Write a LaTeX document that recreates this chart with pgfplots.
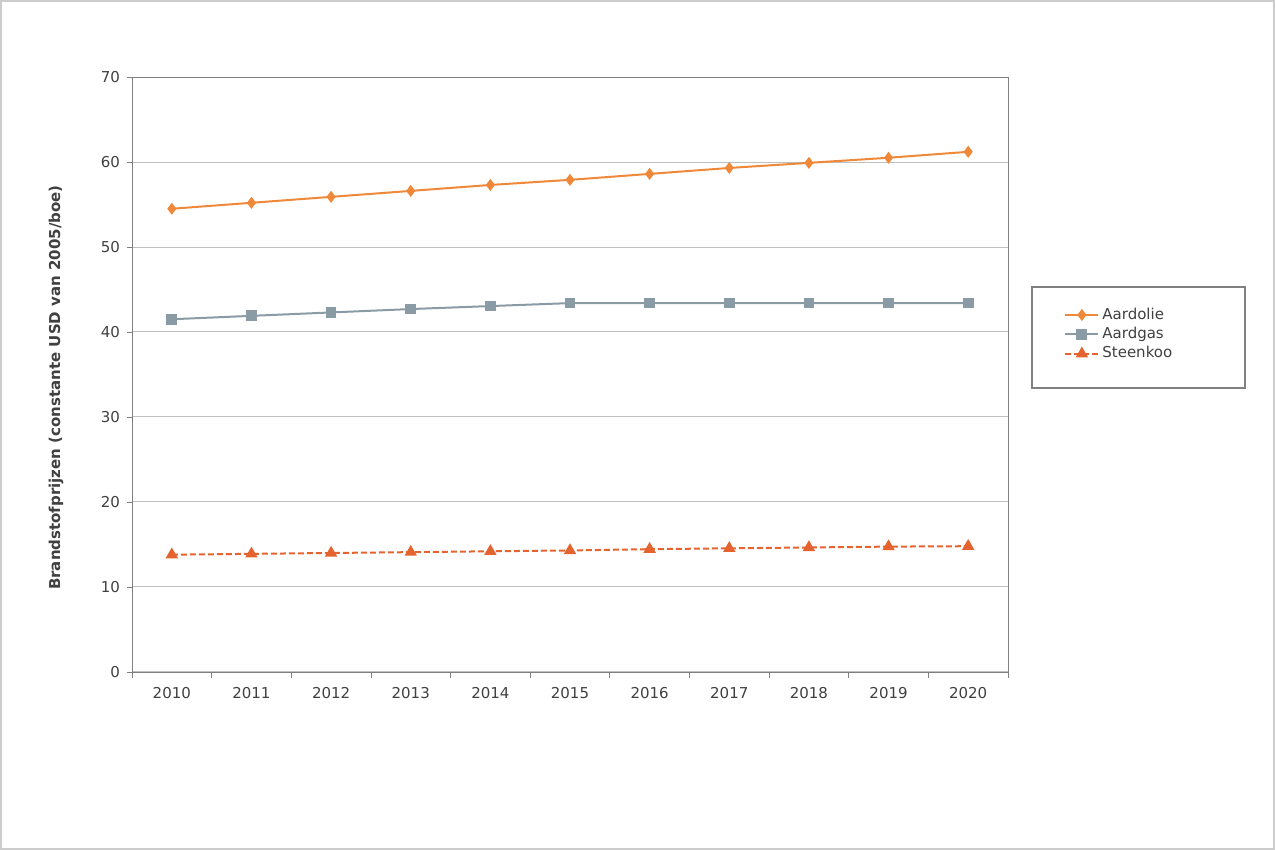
\documentclass[border=0pt]{standalone}
\usepackage{fontspec}
\setmainfont{DejaVu Sans}
\usepackage{pgfplots}
\pgfplotsset{compat=1.18}
\definecolor{oil}{HTML}{F0883A}
\definecolor{gas}{HTML}{8A9BA5}
\definecolor{coal}{HTML}{E5632E}
\begin{document}
\begin{tikzpicture}[font=\fontsize{7.5}{9}\selectfont]
\useasboundingbox (0,0) rectangle (637.5pt,425pt);
\draw[black!20, line width=0.75pt] (0.5pt,0.5pt) rectangle (637pt,424.5pt);
\begin{axis}[
  at={(66pt,89pt)}, anchor=south west,
  scale only axis, width=438pt, height=297.5pt,
  xmin=-0.5, xmax=10.5, ymin=0, ymax=70,
  xtick={0,...,10},
  xticklabels={2010,2011,2012,2013,2014,2015,2016,2017,2018,2019,2020},
  major x tick style={draw=none},
  minor xtick={-0.5,0.5,...,10.5},
  ytick={0,10,...,70},
  tick align=outside, xtick pos=bottom, ytick pos=left,
  major tick length=2.5pt, minor tick length=3pt,
  ymajorgrids, grid style={black!25, line width=0.5pt},
  axis line style={black!50},
  every tick/.style={black!50},
  tick label style={text=black!75, font=\fontsize{7.5}{9}\selectfont},
  xticklabel style={yshift=-1.5pt},
  /pgf/number format/assume math mode=true,
  ylabel={Brandstofprijzen (constante USD van 2005/boe)},
  ylabel style={font=\fontsize{7.5}{9}\selectfont\bfseries, text=black!75, at={(axis description cs:-0.0868,0.478)}, anchor=center},
  legend style={at={(axis description cs:1.0639,0.617)}, anchor=north west, draw=none, fill=none, inner sep=0pt, row sep=0pt,
    nodes={inner xsep=1.5pt, inner ysep=1.25pt, text=black!75, font=\fontsize{7.5}{9}\selectfont}},
  legend cell align=left,
  legend image code/.code={\draw[mark repeat=2,mark phase=2] plot coordinates {(0pt,0pt)(8.25pt,0pt)(16.5pt,0pt)};},
]
\addplot[color=oil, line width=1pt, mark=diamond*, mark size=2.2pt, mark options={solid}] coordinates {
(0,54.5) (1,55.2) (2,55.9) (3,56.6) (4,57.3) (5,57.9) (6,58.6) (7,59.3) (8,59.9) (9,60.5) (10,61.2)};
\addlegendentry{Aardolie}
\addplot[color=gas, line width=1pt, mark=square*, mark size=2.2pt, mark options={solid}] coordinates {
(0,41.5) (1,41.9) (2,42.3) (3,42.7) (4,43.05) (5,43.4) (6,43.4) (7,43.4) (8,43.4) (9,43.4) (10,43.4)};
\addlegendentry{Aardgas}
\addplot[color=coal, line width=1pt, dash pattern=on 3pt off 1.5pt, mark=triangle*, mark size=2.6pt, mark options={solid}] coordinates {
(0,13.8) (1,13.9) (2,14.0) (3,14.1) (4,14.2) (5,14.3) (6,14.45) (7,14.55) (8,14.65) (9,14.75) (10,14.8)};
\addlegendentry{Steenkoo}
\end{axis}
\draw[black!50, line width=0.6pt] (516pt,231pt) rectangle (622.5pt,281.5pt);
\end{tikzpicture}
\end{document}
